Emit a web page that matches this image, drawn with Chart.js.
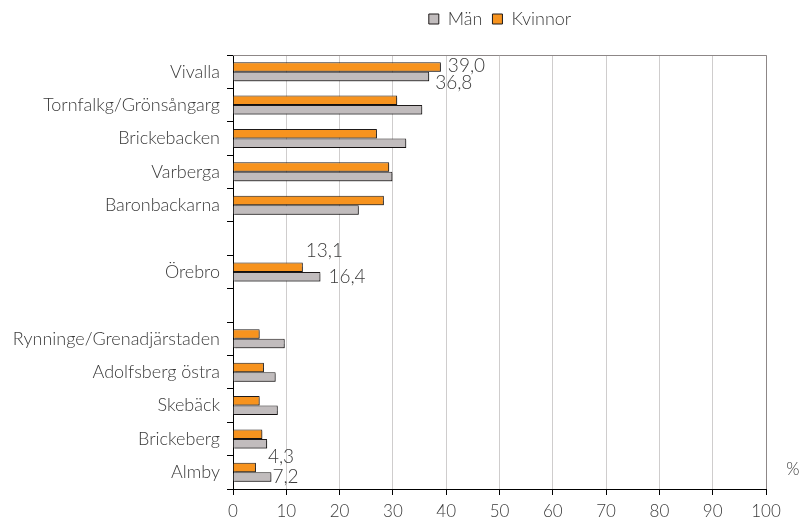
<!DOCTYPE html>
<html>
<head>
<meta charset="utf-8">
<script src="https://cdn.jsdelivr.net/npm/chart.js@4/dist/chart.umd.min.js"></script>
<style>
  html, body { margin: 0; padding: 0; background: #fff; }
  #wrap { width: 800px; height: 525px; }
</style>
</head>
<body>
<div id="wrap"><canvas id="chart" width="800" height="525"></canvas></div>
<script>
// areas, top to bottom; empty strings are spacer rows
const areas = [
  "Vivalla",
  "Tornfalkg/Grönsångarg",
  "Brickebacken",
  "Varberga",
  "Baronbackarna",
  "",
  "Örebro",
  "",
  "Rynninge/Grenadjärstaden",
  "Adolfsberg östra",
  "Skebäck",
  "Brickeberg",
  "Almby",
];
const kvinnor = [39.0, 30.8, 27.0, 29.3, 28.3, null, 13.1, null, 5.0, 5.8, 5.0, 5.5, 4.3];
const man = [36.8, 35.5, 32.5, 29.9, 23.6, null, 16.4, null, 9.7, 8.0, 8.4, 6.4, 7.2];
const xTicks = [0, 10, 20, 30, 40, 50, 60, 70, 80, 90, 100];
const labelledAreas = ["Vivalla", "Örebro", "Almby"];

const FONT = "Lato, 'Open Sans', sans-serif";
const TEXT = "#3a3a3a";

// hand-placed value labels: [dx, dy] for kvinnor, then män
const labelNudge = {
  "Vivalla": [[7, -1], [6, 6]],
  "Örebro": [[3, -16], [8, 0]],
  "Almby": [[12, -11], [1, 0]],
};

const decorations = {
  id: "decorations",
  afterLayout(chart) {
    // legend sits right of centre, near the top edge
    const lg = chart.legend;
    const h = lg.bottom - lg.top;
    lg.left += 117;
    lg.right += 117;
    lg.top = 0;
    lg.bottom = h;
  },
  beforeDatasetsDraw(chart) {
    const a = chart.chartArea;
    const ctx = chart.ctx;
    // grey frame on top and right of the plot
    ctx.save();
    ctx.strokeStyle = "#8d8787";
    ctx.lineWidth = 1;
    ctx.beginPath();
    ctx.moveTo(a.left, a.top + 0.5);
    ctx.lineTo(a.right + 0.5, a.top + 0.5);
    ctx.lineTo(a.right + 0.5, a.bottom);
    ctx.stroke();
    ctx.restore();
    // soft shadow under the bars
    ctx.save();
    ctx.shadowColor = "rgba(0,0,0,0.35)";
    ctx.shadowOffsetX = 1.5;
    ctx.shadowOffsetY = 1.5;
    ctx.shadowBlur = 1;
  },
  afterDatasetsDraw(chart) {
    const ctx = chart.ctx;
    ctx.restore();
    ctx.save();
    ctx.font = "300 19px " + FONT;
    ctx.fillStyle = TEXT;
    ctx.textAlign = "left";
    ctx.textBaseline = "middle";
    labelledAreas.forEach(name => {
      const i = areas.indexOf(name);
      chart.data.datasets.forEach((ds, d) => {
        const bar = chart.getDatasetMeta(d).data[i];
        const nudge = labelNudge[name][d];
        const txt = ds.data[i].toFixed(1).replace(".", ",");
        ctx.fillText(txt, bar.x + nudge[0], bar.y + nudge[1]);
      });
    });
    ctx.restore();
  },
  afterDraw(chart) {
    const a = chart.chartArea;
    const ctx = chart.ctx;
    ctx.save();
    ctx.font = "300 17px " + FONT;
    ctx.fillStyle = TEXT;
    ctx.textAlign = "center";
    ctx.textBaseline = "middle";
    ctx.fillText("%", a.right + 27, a.bottom - 19);
    ctx.restore();
  }
};

new Chart(document.getElementById("chart"), {
  type: "bar",
  data: {
    labels: areas,
    datasets: [
      {
        label: "Kvinnor",
        data: kvinnor,
        backgroundColor: "#f7931e",
        borderColor: "#1e1a1a",
        borderWidth: 1,
      },
      {
        label: "Män",
        data: man,
        backgroundColor: "#c1bcbd",
        borderColor: "#1e1a1a",
        borderWidth: 1,
      },
    ],
  },
  options: {
    indexAxis: "y",
    responsive: false,
    animation: false,
    layout: { padding: { left: 0, right: 34, top: 17, bottom: 0 } },
    datasets: {
      bar: { categoryPercentage: 0.57, barPercentage: 1.0 },
    },
    scales: {
      x: {
        min: 0,
        max: 100,
        afterBuildTicks(scale) {
          scale.ticks = xTicks.map(v => ({ value: v }));
        },
        afterFit(scale) { scale.height = 36; },
        grid: {
          color: "#cfcdcd",
          tickColor: "#000",
          tickLength: 6,
        },
        border: { color: "#000", width: 1 },
        ticks: {
          color: TEXT,
          font: { family: FONT, size: 17, weight: 300 },
          padding: 6,
        },
      },
      y: {
        afterFit(scale) { scale.width = 233; },
        grid: {
          offset: true,
          drawOnChartArea: false,
          tickColor: "#000",
          tickLength: 6,
        },
        border: { color: "#000", width: 1 },
        ticks: {
          autoSkip: false,
          color: TEXT,
          font: { family: FONT, size: 18, weight: 300 },
          padding: 7,
        },
      },
    },
    plugins: {
      legend: {
        position: "top",
        reverse: true,
        labels: {
          color: TEXT,
          font: { family: FONT, size: 18, weight: 300 },
          boxWidth: 10,
          boxHeight: 10,
          padding: 10,
        },
      },
      tooltip: { enabled: false },
    },
  },
  plugins: [decorations],
});
</script>
</body>
</html>
